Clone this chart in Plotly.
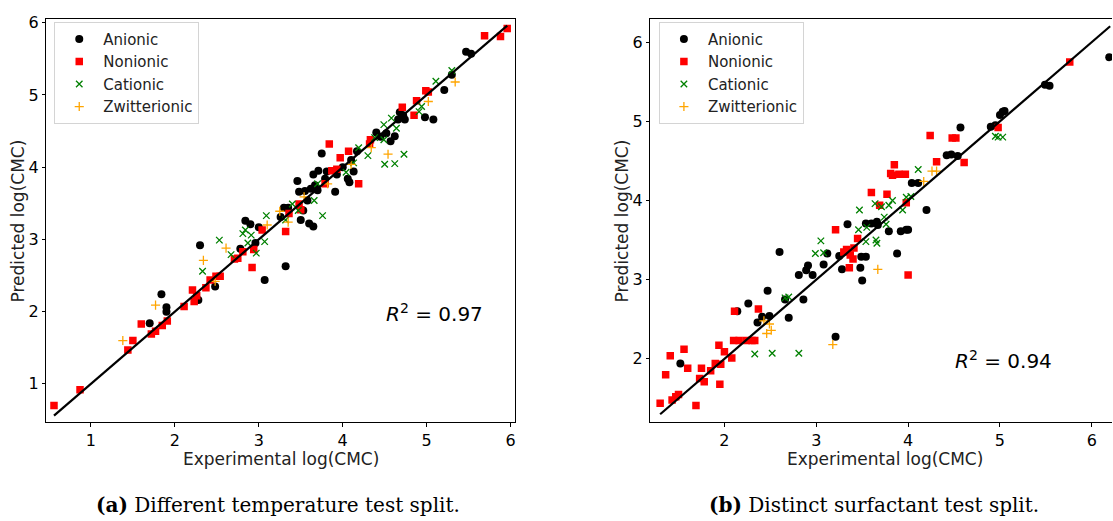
import plotly.graph_objects as go

# ---------------- Panel (a): different temperature test split ----------------
a_anionic_x = [1.70, 1.84, 1.90, 1.90, 2.28, 2.30, 2.48, 2.78, 2.84, 2.90, 2.96, 3.00, 3.07, 3.32, 3.26, 3.30,
               3.35, 3.46, 3.48, 3.50, 3.53, 3.55, 3.58, 3.60, 3.65, 3.62, 3.65, 3.67, 3.70, 3.71, 3.75, 3.79,
               3.81, 3.91, 3.93, 4.00, 4.06, 4.08, 4.10, 4.13, 4.17, 4.40, 4.45, 4.52, 4.57, 4.62, 4.66, 4.68,
               4.74, 4.72, 4.98, 5.08, 5.21, 5.30, 5.47, 5.53]
a_anionic_y = [1.84, 2.24, 2.06, 2.00, 2.16, 2.92, 2.35, 2.87, 3.26, 3.21, 2.95, 3.17, 2.44, 2.63, 3.31, 3.44,
               3.44, 3.81, 3.66, 3.27, 3.40, 3.67, 3.54, 3.22, 3.18, 3.70, 3.90, 3.75, 3.68, 3.95, 4.19, 3.84,
               3.94, 3.66, 3.90, 4.00, 3.84, 3.79, 4.10, 3.94, 4.22, 4.48, 4.42, 4.47, 4.36, 4.43, 4.66, 4.76,
               4.66, 4.72, 4.69, 4.66, 5.07, 5.28, 5.60, 5.57]
a_nonionic_x = [0.56, 0.87, 1.44, 1.50, 1.60, 1.72, 1.77, 1.85, 1.91, 2.11, 2.21, 2.23, 2.26, 2.37, 2.42, 2.49,
                2.54, 2.71, 2.75, 2.81, 2.92, 2.94, 3.04, 3.32, 3.36, 3.48, 3.50, 3.79, 3.84, 3.87, 3.97, 3.93,
                4.07, 4.19, 4.32, 4.33, 4.85, 4.71, 4.88, 4.99, 5.02, 5.69, 5.88, 5.96]
a_nonionic_y = [0.70, 0.92, 1.47, 1.60, 1.83, 1.69, 1.73, 1.81, 1.87, 2.07, 2.30, 2.14, 2.22, 2.33, 2.44, 2.49,
                2.49, 2.73, 2.74, 2.83, 2.61, 2.86, 3.13, 3.11, 3.36, 3.49, 3.41, 3.77, 4.32, 3.95, 4.13, 3.97,
                4.22, 3.77, 4.32, 4.38, 4.72, 4.83, 4.92, 5.06, 5.04, 5.82, 5.81, 5.92]
a_cationic_x = [2.33, 2.53, 2.67, 2.81, 2.84, 2.87, 2.91, 2.97, 3.07, 3.09, 3.32, 3.40, 3.47, 3.66, 3.76, 3.70,
                4.04, 4.13, 4.19, 4.30, 4.38, 4.49, 4.50, 4.49, 4.58, 4.62, 4.64, 4.73, 4.91, 4.94, 5.11, 5.30]
a_cationic_y = [2.56, 2.99, 2.79, 3.08, 3.13, 2.95, 3.06, 2.81, 2.97, 3.33, 3.27, 3.49, 3.40, 3.54, 3.33, 3.77,
                3.93, 4.06, 4.27, 4.16, 4.41, 4.38, 4.04, 4.59, 4.68, 4.05, 4.54, 4.18, 4.77, 4.84, 5.19, 5.34]
a_zwitter_x = [1.38, 1.77, 2.34, 2.48, 2.61, 3.10, 3.25, 3.35, 3.54, 3.82, 4.10, 4.34, 4.54, 5.02, 5.34]
a_zwitter_y = [1.60, 2.09, 2.71, 2.42, 2.88, 3.20, 3.39, 3.24, 3.59, 3.77, 4.04, 4.27, 4.18, 4.91, 5.18]
a_line = [0.56, 5.96]
a_r2 = "0.97"

# ---------------- Panel (b): distinct surfactant test split ----------------
b_anionic_x = [1.52, 2.14, 2.26, 2.36, 2.41, 2.47, 2.49, 2.60, 2.66, 2.70, 2.81, 2.86, 2.89, 2.91, 2.96, 3.08,
               3.12, 3.21, 3.25, 3.28, 3.34, 3.48, 3.49, 3.50, 3.54, 3.54, 3.60, 3.66, 3.67, 3.79, 3.88, 3.92,
               3.98, 4.00, 4.04, 4.11, 4.20, 4.42, 4.47, 4.54, 4.57, 4.90, 4.95, 5.00, 5.03, 5.05, 5.49, 5.54, 6.19]
b_anionic_y = [1.94, 2.60, 2.70, 2.46, 2.53, 2.86, 2.54, 3.35, 2.75, 2.52, 3.06, 2.75, 3.12, 3.18, 3.06, 3.19,
               3.33, 2.28, 3.30, 3.13, 3.70, 3.15, 3.29, 2.99, 3.29, 3.71, 3.71, 3.73, 3.69, 3.61, 3.33, 3.61,
               3.63, 3.63, 4.22, 4.22, 3.88, 4.57, 4.58, 4.56, 4.92, 4.93, 4.95, 5.08, 5.12, 5.13, 5.46, 5.45, 5.81]
b_nonionic_x = [1.30, 1.36, 1.41, 1.43, 1.47, 1.50, 1.56, 1.60, 1.69, 1.73, 1.75, 1.78, 1.85, 1.90, 1.94, 1.95,
                1.96, 2.00, 2.08, 2.11, 2.10, 2.16, 2.24, 2.30, 2.33, 2.37, 3.21, 3.30, 3.33, 3.36, 3.37, 3.41,
                3.40, 3.45, 3.60, 3.69, 3.77, 3.81, 3.85, 3.83, 3.90, 3.97, 3.98, 4.00, 4.24, 4.31, 4.48, 4.52,
                4.61, 4.98, 5.76]
b_nonionic_y = [1.44, 1.80, 2.04, 1.48, 1.52, 1.55, 2.12, 1.88, 1.41, 1.75, 1.88, 1.71, 1.85, 1.94, 2.17, 1.68,
                1.93, 2.09, 2.01, 2.60, 2.23, 2.23, 2.23, 2.23, 2.23, 2.63, 3.63, 3.35, 3.38, 3.15, 3.31, 3.40,
                3.26, 3.52, 4.10, 3.94, 4.08, 4.34, 4.45, 4.32, 4.33, 4.33, 3.97, 3.06, 4.82, 4.49, 4.79, 4.79,
                4.48, 4.92, 5.75]
b_cationic_x = [2.33, 2.52, 2.66, 2.70, 2.81, 2.99, 3.05, 3.08, 3.46, 3.47, 3.54, 3.55, 3.64, 3.65, 3.66, 3.71,
                3.74, 3.76, 3.79, 3.83, 3.94, 3.98, 4.03, 4.11, 4.95, 4.98, 5.03]
b_cationic_y = [2.06, 2.07, 2.77, 2.78, 2.07, 3.33, 3.49, 3.34, 3.63, 3.88, 3.48, 3.66, 3.96, 3.50, 3.46, 3.92,
                3.79, 3.70, 3.94, 4.00, 3.88, 4.04, 4.05, 4.39, 4.81, 4.80, 4.80]
b_zwitter_x = [2.43, 2.46, 2.49, 2.51, 3.18, 3.67, 4.17, 4.26, 4.31]
b_zwitter_y = [2.48, 2.32, 2.44, 2.36, 2.18, 3.13, 4.24, 4.37, 4.37]
b_line = [1.30, 6.20]
b_r2 = "0.94"

categories = ["Anionic", "Nonionic", "Cationic", "Zwitterionic"]
colors = ["black", "red", "green", "orange"]
symbols = ["circle", "square", "x-thin", "cross-thin"]
sizes = [8, 7.5, 6.5, 6.5]

W, H = 1113, 521

fig = go.Figure()

panels = [
    ("x", "y", "legend", [(a_anionic_x, a_anionic_y), (a_nonionic_x, a_nonionic_y),
                          (a_cationic_x, a_cationic_y), (a_zwitter_x, a_zwitter_y)], a_line),
    ("x2", "y2", "legend2", [(b_anionic_x, b_anionic_y), (b_nonionic_x, b_nonionic_y),
                             (b_cationic_x, b_cationic_y), (b_zwitter_x, b_zwitter_y)], b_line),
]

for xa, ya, leg, series, line in panels:
    for i, (xs, ys) in enumerate(series):
        thin = symbols[i].endswith("thin")
        fig.add_trace(go.Scatter(
            x=xs, y=ys, mode="markers", name=categories[i],
            xaxis=xa, yaxis=ya, legend=leg,
            marker=dict(symbol=symbols[i], size=sizes[i], color=colors[i],
                        line=dict(color=colors[i], width=1.3 if thin else 0)),
        ))
    fig.add_trace(go.Scatter(
        x=line, y=line, mode="lines", xaxis=xa, yaxis=ya, showlegend=False,
        line=dict(color="black", width=2.2),
    ))


def px_x(p):
    return p / W


def px_y(p):
    return 1 - p / H


tickfont = dict(family="DejaVu Sans", size=16, color="black")
axis_common = dict(showgrid=False, zeroline=False, ticks="outside", ticklen=3.5, tickwidth=1,
                   tickcolor="black", showline=True, linecolor="black", linewidth=1,
                   tickfont=tickfont)

legend_common = dict(xanchor="left", yanchor="top", bgcolor="white", bordercolor="#d4d4d4",
                     borderwidth=1, font=dict(family="DejaVu Sans", size=15, color="#222"),
                     itemsizing="trace", itemwidth=38)

fig.update_layout(
    width=W, height=H,
    margin=dict(l=0, r=0, t=0, b=0),
    paper_bgcolor="white", plot_bgcolor="white",
    xaxis=dict(domain=[px_x(46.4), px_x(515.4)], range=[0.469, 6.052], tickvals=[1, 2, 3, 4, 5, 6],
               mirror=True, anchor="y", **axis_common),
    yaxis=dict(domain=[px_y(421), px_y(13.3)], range=[0.47, 6.05], tickvals=[1, 2, 3, 4, 5, 6],
               mirror=True, anchor="x", **axis_common),
    xaxis2=dict(domain=[px_x(651), 1.0], range=[1.194, 6.22], tickvals=[2, 3, 4, 5, 6],
                mirror=True, anchor="y2", **axis_common),
    yaxis2=dict(domain=[px_y(421), px_y(13.3)], range=[1.2, 6.29], tickvals=[2, 3, 4, 5, 6],
                mirror=False, anchor="x2", **axis_common),
    legend=dict(x=px_x(54.3), y=px_y(16), **legend_common),
    legend2=dict(x=px_x(659.5), y=px_y(16), **legend_common),
    showlegend=True,
)

title_font = dict(family="DejaVu Sans", size=17, color="#222")
cap_font = dict(family="DejaVu Serif", size=20, color="black")
annotations = [
    dict(text="Experimental log(CMC)", x=px_x(281), y=px_y(458), xref="paper", yref="paper",
         showarrow=False, font=title_font, xanchor="center", yanchor="middle"),
    dict(text="Experimental log(CMC)", x=px_x(886), y=px_y(458), xref="paper", yref="paper",
         showarrow=False, font=title_font, xanchor="center", yanchor="middle"),
    dict(text="Predicted log(CMC)", x=px_x(18), y=px_y(217), xref="paper", yref="paper",
         showarrow=False, font=title_font, textangle=-90, xanchor="center", yanchor="middle"),
    dict(text="Predicted log(CMC)", x=px_x(622.5), y=px_y(217), xref="paper", yref="paper",
         showarrow=False, font=title_font, textangle=-90, xanchor="center", yanchor="middle"),
    dict(text="<i>R</i><sup>2</sup> = " + a_r2, x=5.09, y=1.975, xref="x", yref="y",
         showarrow=False, xanchor="center", yanchor="middle",
         font=dict(family="DejaVu Sans", size=20, color="black")),
    dict(text="<i>R</i><sup>2</sup> = " + b_r2, x=5.04, y=1.98, xref="x2", yref="y2",
         showarrow=False, xanchor="center", yanchor="middle",
         font=dict(family="DejaVu Sans", size=20, color="black")),
    dict(text="<b>(a)</b> Different temperature test split.", x=px_x(278), y=px_y(505),
         xref="paper", yref="paper", showarrow=False, xanchor="center", yanchor="middle",
         font=cap_font),
    dict(text="<b>(b)</b> Distinct surfactant test split.", x=px_x(875), y=px_y(505),
         xref="paper", yref="paper", showarrow=False, xanchor="center", yanchor="middle",
         font=cap_font),
]
fig.update_layout(annotations=annotations)

fig.write_html("out.html", config={"displayModeBar": False},
               post_script="document.body.style.margin='0px';")
